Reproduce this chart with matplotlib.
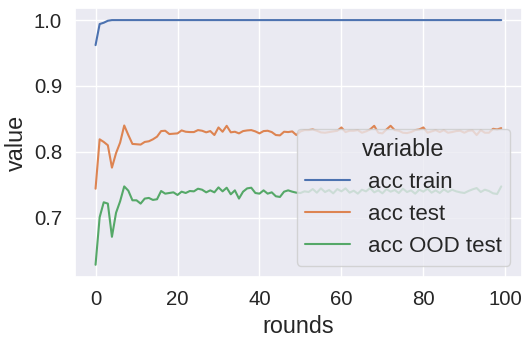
import matplotlib
matplotlib.use("Agg")
import matplotlib.pyplot as plt
import seaborn as sns
import pandas as pd
import numpy as np

rounds = list(range(100))

acc_train = [0.962, 0.994, 0.996, 0.999] + [1.0] * 96

acc_test = [
    0.744, 0.819, 0.815, 0.810, 0.776, 0.798, 0.814, 0.840, 0.8255, 0.812,
    0.8115, 0.811, 0.815, 0.816, 0.819, 0.823, 0.8315, 0.832, 0.827, 0.8275,
    0.828, 0.8325, 0.8305, 0.830, 0.830, 0.833, 0.832, 0.8296, 0.8315, 0.8255,
    0.837, 0.8305, 0.8395, 0.8296, 0.8305, 0.828, 0.8315, 0.8325, 0.833, 0.831,
    0.828, 0.8315, 0.832, 0.830, 0.8255, 0.825, 0.8305, 0.830, 0.831, 0.8255,
    0.831, 0.833, 0.833, 0.834, 0.832, 0.8295, 0.829, 0.830, 0.831, 0.832,
    0.837, 0.830, 0.832, 0.832, 0.833, 0.829, 0.831, 0.834, 0.8395, 0.829,
    0.828, 0.834, 0.8395, 0.833, 0.832, 0.829, 0.8285, 0.830, 0.833, 0.834,
    0.837, 0.829, 0.831, 0.833, 0.830, 0.833, 0.829, 0.830, 0.8315, 0.832,
    0.829, 0.832, 0.8325, 0.8255, 0.833, 0.829, 0.829, 0.835, 0.834, 0.836,
]

acc_ood = [
    0.6285, 0.7007, 0.7234, 0.7214, 0.671, 0.7074, 0.725, 0.7475, 0.741, 0.7264,
    0.7264, 0.7214, 0.729, 0.730, 0.727, 0.728, 0.7405, 0.7365, 0.7375, 0.7385,
    0.7345, 0.7395, 0.7375, 0.7405, 0.740, 0.744, 0.7425, 0.7385, 0.7415, 0.7385,
    0.746, 0.740, 0.7455, 0.7355, 0.7415, 0.729, 0.7395, 0.7445, 0.7455, 0.7375,
    0.7365, 0.7415, 0.7365, 0.7385, 0.7325, 0.7315, 0.7395, 0.7415, 0.7395, 0.738,
    0.7375, 0.740, 0.739, 0.7435, 0.738, 0.7445, 0.739, 0.742, 0.737, 0.7435,
    0.740, 0.7445, 0.738, 0.741, 0.7365, 0.7425, 0.740, 0.745, 0.7385, 0.7415,
    0.737, 0.7435, 0.7395, 0.742, 0.7375, 0.744, 0.739, 0.7415, 0.7365, 0.7425,
    0.7395, 0.744, 0.738, 0.7415, 0.7375, 0.743, 0.739, 0.7425, 0.740, 0.7385,
    0.7375, 0.7405, 0.743, 0.745, 0.739, 0.7425, 0.7405, 0.737, 0.736, 0.7475,
]

series_names = ["acc train", "acc test", "acc OOD test"]

df = pd.DataFrame({"rounds": rounds, "acc train": acc_train,
                   "acc test": acc_test, "acc OOD test": acc_ood})
long = df.melt(id_vars="rounds", value_vars=series_names,
               var_name="variable", value_name="value")

sns.set_theme(style="darkgrid")
plt.rcParams["font.family"] = ["Liberation Sans", "DejaVu Sans"]

fig = plt.figure(figsize=(5.3, 3.42), dpi=100)
ax = fig.add_axes([0.142, 0.19, 0.842, 0.787])
sns.lineplot(data=long, x="rounds", y="value", hue="variable", ax=ax,
             linewidth=1.5)

ax.tick_params(labelsize=14.7)
ax.set_xlabel("rounds", fontsize=16.8)
ax.set_ylabel("value", fontsize=16.8)
ax.set_xticks([0, 20, 40, 60, 80, 100])
ax.set_yticks([0.7, 0.8, 0.9, 1.0])
leg = ax.legend(title="variable", loc="lower right", fontsize=16,
                title_fontsize=16.8)

fig.savefig("out.png", dpi=100)
